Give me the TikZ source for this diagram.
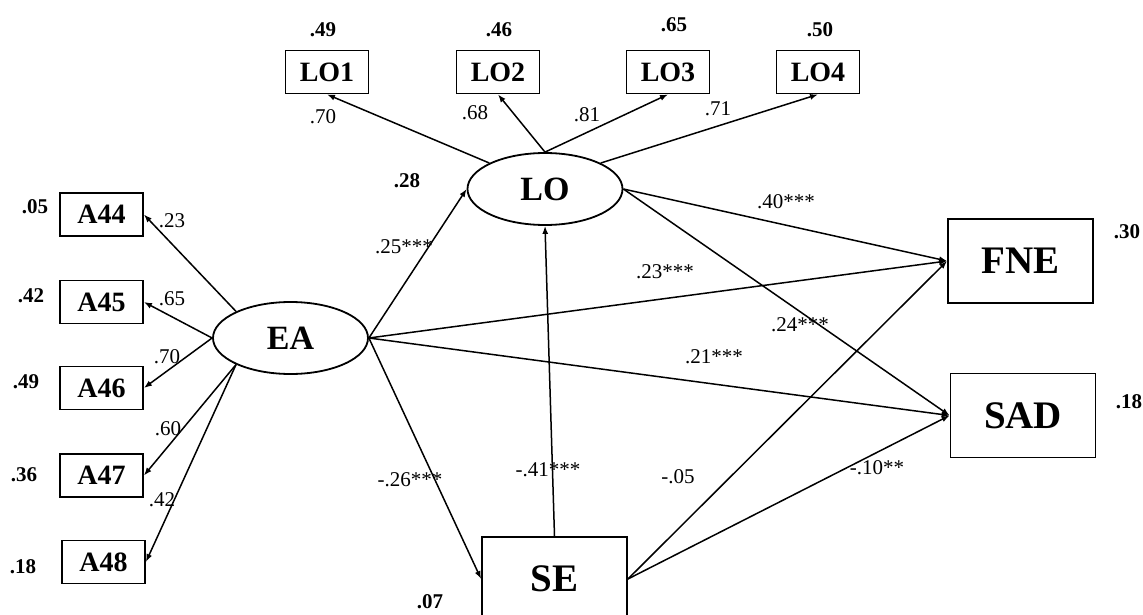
\documentclass[tikz,border=0pt]{standalone}
\usepackage{fontspec}
\setmainfont{Liberation Serif}
\usetikzlibrary{shapes.geometric,arrows.meta}
\tikzset{
  obs/.style={draw, line width=1.8pt, minimum width=83pt, minimum height=43pt, inner sep=0pt,
    font=\bfseries\fontsize{28}{28}\selectfont},
  bigbox/.style={draw, line width=1.8pt, minimum width=145pt, minimum height=84pt, inner sep=0pt,
    font=\bfseries\fontsize{39}{39}\selectfont},
  lat/.style={draw, ellipse, line width=1.8pt, minimum width=155pt, minimum height=72pt, inner sep=0pt,
    font=\bfseries\fontsize{34}{34}\selectfont},
  coef/.style={font=\fontsize{21}{21}\selectfont, inner sep=0pt},
  rsq/.style={font=\bfseries\fontsize{21}{21}\selectfont, inner sep=0pt},
  arr/.style={line width=1.5pt, -{Latex[length=8pt,width=6pt]}},
}
\begin{document}
\begin{tikzpicture}[x=1pt,y=-1pt]
\useasboundingbox (0,0) rectangle (1143,615);
% observed EA indicators
\node[obs] (A44) at (101.5,214.5) {A44};
\node[obs] (A45) at (101.5,302) {A45};
\node[obs] (A46) at (101.5,388) {A46};
\node[obs] (A47) at (101.5,475.5) {A47};
\node[obs] (A48) at (103.5,562) {A48};
% LO indicators
\node[obs] (LO1) at (327,72) {LO1};
\node[obs] (LO2) at (498,72) {LO2};
\node[obs] (LO3) at (668,72) {LO3};
\node[obs] (LO4) at (818,72) {LO4};
% latent
\node[lat] (EA) at (290.5,338) {EA};
\node[lat] (LO) at (545,189) {LO};
% outcomes
\node[bigbox] (FNE) at (1020.5,261) {FNE};
\node[bigbox] (SAD) at (1023,415.5) {SAD};
\node[bigbox] (SE) at (554.5,579) {SE};

% loadings EA
\draw[arr] (EA.154) -- (A44.east);
\draw[arr] (EA.180) -- (A45.east);
\draw[arr] (EA.180) -- (A46.east);
\draw[arr] (EA.206) -- (A47.east);
\draw[arr] (EA.206) -- (A48.east);
% loadings LO
\draw[arr] (LO.155) -- (LO1.south);
\draw[arr] (LO.north) -- (LO2.south);
\draw[arr] (LO.north) -- (LO3.south);
\draw[arr] (LO.25) -- (LO4.south);
% structural paths
\draw[arr] (EA.east) -- (LO.west);
\draw[arr] (EA.east) -- (SE.west);
\draw[arr] (EA.east) -- (FNE.west);
\draw[arr] (EA.east) -- (SAD.west);
\draw[arr] (LO.east) -- (FNE.west);
\draw[arr] (LO.east) -- (SAD.west);
\draw[arr] (SE.north) -- (LO.south);
\draw[arr] (SE.east) -- (FNE.west);
\draw[arr] (SE.east) -- (SAD.west);

% coefficient labels
\node[coef] (c1) at (172,221) {.23};
\node[coef] (c2) at (172,299) {.65};
\node[coef] (c3) at (167,357) {.70};
\node[coef] (c4) at (168,429) {.60};
\node[coef] (c5) at (162,500) {.42};
\node[coef] (c6) at (323,117) {.70};
\node[coef] (c7) at (475,113) {.68};
\node[coef] (c8) at (587,115) {.81};
\node[coef] (c9) at (718,109) {.71};
\node[coef] (c10) at (404,247) {.25***};
\node[coef] (c11) at (665,272) {.23***};
\node[coef] (c12) at (714,357) {.21***};
\node[coef] (c13) at (800,325) {.24***};
\node[coef] (c14) at (786,202) {.40***};
\node[coef] (c15) at (410,480) {-.26***};
\node[coef] (c16) at (548,470) {-.41***};
\node[coef] (c17) at (678,477) {-.05};
\node[coef] (c18) at (877,468) {-.10**};

% R-squared labels
\node[rsq] (r1) at (35,207) {.05};
\node[rsq] (r2) at (31,296) {.42};
\node[rsq] (r3) at (26,382) {.49};
\node[rsq] (r4) at (24,475) {.36};
\node[rsq] (r5) at (23,567) {.18};
\node[rsq] (r6) at (323,30) {.49};
\node[rsq] (r7) at (499,30) {.46};
\node[rsq] (r8) at (674,25) {.65};
\node[rsq] (r9) at (820,30) {.50};
\node[rsq] (r10) at (407,181) {.28};
\node[rsq] (r11) at (1127,232) {.30};
\node[rsq] (r12) at (1129,402) {.18};
\node[rsq] (r13) at (430,602) {.07};
\end{tikzpicture}
\end{document}
